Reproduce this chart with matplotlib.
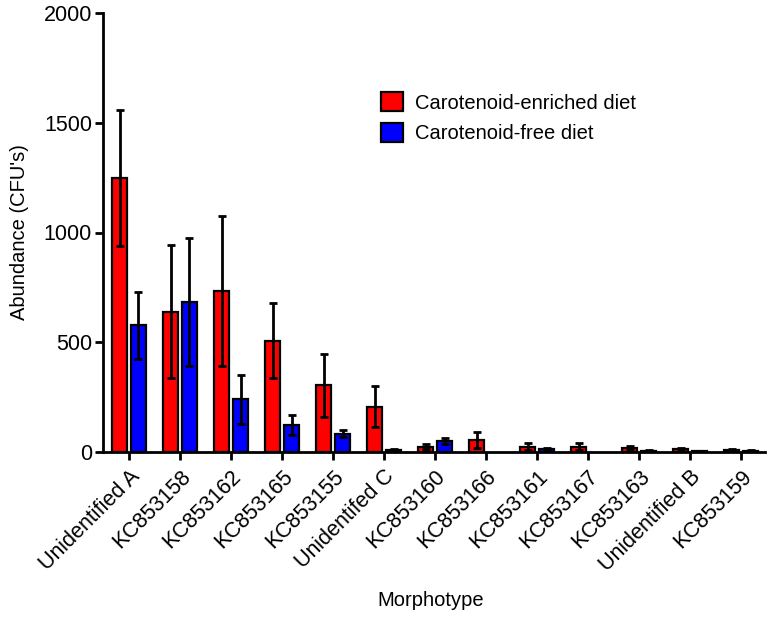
import numpy as np
import matplotlib
matplotlib.use("Agg")
import matplotlib.pyplot as plt

plt.rcParams['font.family'] = ['Liberation Sans', 'DejaVu Sans']

categories = ["Unidentified A", "KC853158", "KC853162", "KC853165", "KC853155",
              "Unidentifed C", "KC853160", "KC853166", "KC853161", "KC853167",
              "KC853163", "Unidentified B", "KC853159"]
enriched = [1247, 640, 733, 507, 303, 206, 25, 55, 25, 25, 20, 12, 10]
enriched_err = [310, 305, 343, 172, 145, 93, 10, 36, 15, 17, 8, 4, 4]
free = [577, 683, 241, 123, 83, 10, 50, 0, 15, 0, 5, 3, 5]
free_err = [153, 293, 112, 47, 15, 5, 15, 0, 5, 0, 2, 1, 2]
series_names = ["Carotenoid-enriched diet", "Carotenoid-free diet"]
yticks = [0, 500, 1000, 1500, 2000]

fig = plt.figure(figsize=(7.68, 6.2), dpi=100)
ax = fig.add_axes([103/768, 1-452/620, (765-103)/768, (452-13)/620])

x = np.arange(len(categories))
w = 0.28
off = 0.186
for vals, errs, color, sign, name in [(enriched, enriched_err, '#FF0000', -1, series_names[0]),
                                      (free, free_err, '#0000FF', 1, series_names[1])]:
    vals = np.array(vals, float)
    errs = np.array(errs, float)
    xs = x + sign*off
    m = vals > 0
    ax.bar(xs[m], vals[m], width=w, color=color, edgecolor='black', linewidth=1.6,
           label=name, zorder=2)
    ax.errorbar(xs[m], vals[m], yerr=errs[m], fmt='none', ecolor='black',
                elinewidth=2, capsize=3, capthick=2, zorder=3)

ax.set_xlim(-0.51, len(categories) - 1 + 0.47)
ax.set_ylim(0, 2000)
ax.set_yticks(yticks)
ax.set_xticks(x)
ax.set_xticklabels(categories, rotation=45, ha='right', rotation_mode='anchor', fontsize=15.5)
ax.tick_params(axis='y', labelsize=15.5, width=2, length=6, direction='out', pad=2)
ax.tick_params(axis='x', width=2, length=6, direction='out', pad=4)
for s in ['top', 'right']:
    ax.spines[s].set_visible(False)
for s in ['left', 'bottom']:
    ax.spines[s].set_linewidth(2)

ax.set_ylabel("Abundance (CFU's)", fontsize=14.5)
ax.yaxis.set_label_coords(-0.112, 0.5)
ax.set_xlabel("Morphotype", fontsize=14.5)
ax.xaxis.set_label_coords(0.495, -0.317)

leg = ax.legend(loc='upper left', bbox_to_anchor=(381/768, 1-92/620),
                bbox_transform=fig.transFigure, frameon=False, fontsize=14.5,
                handlelength=1.1, handleheight=1.1, handletextpad=0.6,
                labelspacing=0.5, borderpad=0, borderaxespad=0)

fig.savefig("out.png", dpi=100)
